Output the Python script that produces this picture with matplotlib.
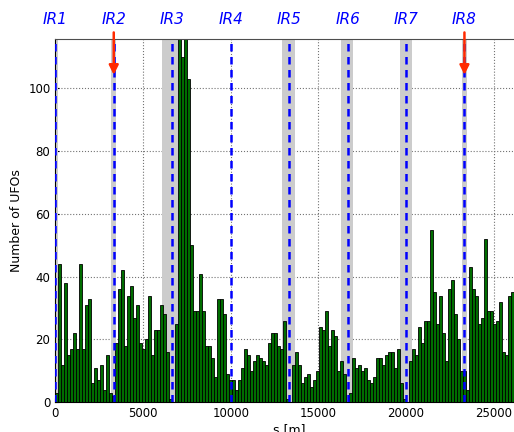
import matplotlib
matplotlib.use('Agg')
import matplotlib.pyplot as plt
import numpy as np

# ring length and interaction regions
circumference = 26659.0
ir_names = ['IR1', 'IR2', 'IR3', 'IR4', 'IR5', 'IR6', 'IR7', 'IR8']
ir_pos = [0.0, 3332.4, 6664.7, 9997.1, 13329.4, 16661.8, 19994.2, 23326.5]
injection = ['IR2', 'IR8']

# shaded zones (start, end) in m
zones_lo = [-140, 3190, 6100, 12942, 16305, 19635, 23180]
zones_hi = [140, 3470, 7160, 13649, 16990, 20353, 23470]

# UFO counts per bin
counts = [3, 44, 12, 38, 15, 17, 22, 17, 44, 17, 31, 33, 6, 11, 7, 12, 4, 15, 3, 2,
          19, 36, 42, 18, 34, 37, 27, 31, 19, 17, 20, 34, 15, 23, 23, 31, 28, 16,
          1, 0,
          25, 130, 110, 125, 103, 50, 29, 29, 41, 29, 18, 18, 14, 8, 33, 33, 28, 9, 7,
          7, 4, 7, 11, 17, 15, 10, 13, 15, 14, 13, 12, 19, 22, 22, 18, 17, 26,
          1, 0,
          12, 16, 12, 6, 8, 9, 5, 7, 10, 24, 23, 29, 18, 23, 21, 10, 13, 9,
          0,
          3, 14, 11, 12, 10, 11, 7, 6, 8, 14, 14, 12, 15, 16, 16, 11, 17, 6,
          1, 0,
          13, 17, 15, 24, 19, 26, 26, 55, 35, 25, 34, 22, 13, 36, 39, 28, 20, 10,
          10, 4,
          43, 36, 34, 25, 27, 52, 29, 29, 25, 26, 32, 16, 15, 34, 35,
          30, 28, 33]

edges = np.linspace(0, circumference, len(counts) + 1)
width = edges[1] - edges[0]

fig = plt.figure(figsize=(5.14, 4.32), dpi=100)
ax = fig.add_axes([0.1076, 0.0688, 0.9097, 0.8416])

for lo, hi in zip(zones_lo, zones_hi):
    ax.axvspan(lo, hi, color='0.8', lw=0, zorder=1)

ax.bar(edges[:-1], counts, width=width, align='edge', color='#006d00',
       edgecolor='black', linewidth=0.6, zorder=2)

for name, s in zip(ir_names, ir_pos):
    ax.axvline(s, color='blue', ls=(0, (3, 2.2)), lw=1.8, zorder=3)
    ax.text(s, 1.054, name, transform=ax.get_xaxis_transform(), color='blue',
            fontsize=11, style='italic', ha='center', va='center')
    if name in injection:
        ax.annotate('', xy=(s, 104.3), xytext=(s, 117.8),
                    arrowprops=dict(arrowstyle='-|>', color='#ff2a00', lw=1.8,
                                    mutation_scale=14, shrinkA=0, shrinkB=0),
                    annotation_clip=False, zorder=4)

ax.set_xlim(0, circumference)
ax.set_ylim(0, 115.8)
ax.set_xticks([0, 5000, 10000, 15000, 20000, 25000])
ax.set_yticks([0, 20, 40, 60, 80, 100])
ax.tick_params(labelsize=8.5, direction='in', length=3)
ax.grid(True, ls=':', color='0.45', lw=0.8)
ax.set_axisbelow(True)
ax.set_xlabel('s [m]', fontsize=9, labelpad=2)
ax.set_ylabel('Number of UFOs', fontsize=9)
ax.spines['top'].set_color('0.3')

fig.savefig('out.png', dpi=100)
